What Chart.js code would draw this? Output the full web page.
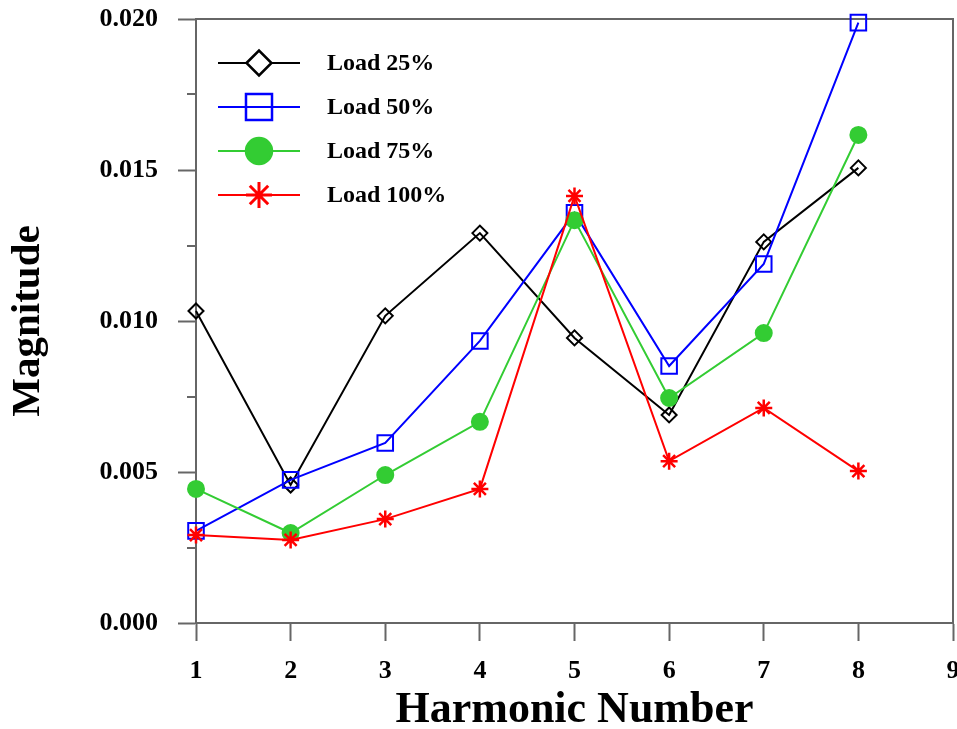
<!DOCTYPE html>
<html>
<head>
<meta charset="utf-8">
<title>Harmonic Magnitude</title>
<script src="https://cdn.jsdelivr.net/npm/chart.js@4.4.1/dist/chart.umd.min.js"></script>
<style>
  html, body { margin: 0; padding: 0; background: #fff; overflow: hidden; }
  /* canvas un po' più largo della finestra: il "9" finale resta tagliato sul bordo */
  #wrap { width: 957px; height: 729px; overflow: hidden; }
</style>
</head>
<body>
<div id="wrap"><canvas id="graficoArmoniche" width="966" height="729"></canvas></div>
<script>
// Dati
const harmonics = [1, 2, 3, 4, 5, 6, 7, 8];
const load25 = [0.01033, 0.00457, 0.01017, 0.01291, 0.00944, 0.00689, 0.01262, 0.01507];
const load50 = [0.00305, 0.00474, 0.00596, 0.00934, 0.01358, 0.00851, 0.01189, 0.01988];
const load75 = [0.00444, 0.00298, 0.00490, 0.00666, 0.01334, 0.00745, 0.00960, 0.01616];
const load100 = [0.00291, 0.00275, 0.00344, 0.00444, 0.01414, 0.00536, 0.00712, 0.00503];
const seriesLabels = ['Load 25%', 'Load 50%', 'Load 75%', 'Load 100%'];
const yTicks = [0, 0.005, 0.010, 0.015, 0.020];
const xTicks = [1, 2, 3, 4, 5, 6, 7, 8, 9];

const serif = "'Liberation Serif', 'DejaVu Serif', serif";
const axisColor = '#666';

function toPoints(values) {
    return harmonics.map((h, i) => ({ x: h, y: values[i] }));
}

// stile di ogni serie: colore, marker e dimensione nel grafico / in legenda
const styles = [
    { color: '#000000', pointStyle: 'rectRot', radius: 7.5, legendRadius: 12.5, width: 2, fill: 'rgba(0,0,0,0)', legendFill: '#fff', order: 3 },
    { color: '#0000ff', pointStyle: 'rect', radius: 11, legendRadius: 18.4, width: 2, fill: 'rgba(0,0,0,0)', legendFill: 'rgba(0,0,0,0)', order: 2 },
    { color: '#33cc33', pointStyle: 'circle', radius: 8, legendRadius: 13, width: 2, fill: '#33cc33', legendFill: '#33cc33', order: 1 },
    { color: '#ff0000', pointStyle: 'star', radius: 8.5, legendRadius: 13, width: 2.5, fill: '#ff0000', legendFill: '#ff0000', order: 0 }
];
const seriesData = [load25, load50, load75, load100];

// tacche secondarie sull'asse y (a metà tra le principali)
const minorTicks = {
    id: 'minorTicks',
    afterDraw(chart) {
        const ctx = chart.ctx;
        const y = chart.scales.y;
        ctx.save();
        ctx.strokeStyle = axisColor;
        ctx.lineWidth = 2;
        for (let i = 0; i < yTicks.length - 1; i++) {
            const py = Math.round(y.getPixelForValue((yTicks[i] + yTicks[i + 1]) / 2));
            ctx.beginPath();
            ctx.moveTo(y.right - 9, py);
            ctx.lineTo(y.right, py);
            ctx.stroke();
        }
        ctx.restore();
    }
};

// cornice: lato superiore e destro
const frame = {
    id: 'frame',
    beforeDatasetsDraw(chart) {
        const a = chart.chartArea;
        const ctx = chart.ctx;
        ctx.save();
        ctx.strokeStyle = axisColor;
        ctx.lineWidth = 2;
        ctx.beginPath();
        ctx.moveTo(a.left, a.top);
        ctx.lineTo(a.right, a.top);
        ctx.lineTo(a.right, a.bottom);
        ctx.stroke();
        ctx.restore();
    }
};

// legenda disegnata a mano: linea + marker + testo
const lineLegend = {
    id: 'lineLegend',
    afterDraw(chart) {
        const ctx = chart.ctx;
        const rows = [63, 107, 151, 195];
        ctx.save();
        chart.data.datasets.forEach((ds, i) => {
            const s = styles[i];
            const y = rows[i];
            ctx.strokeStyle = s.color;
            ctx.lineWidth = 2;
            ctx.beginPath();
            ctx.moveTo(218, y);
            ctx.lineTo(300, y);
            ctx.stroke();
            ctx.fillStyle = s.legendFill;
            ctx.strokeStyle = s.color;
            ctx.lineWidth = s.width + 0.5;
            Chart.helpers.drawPoint(ctx, {
                pointStyle: s.pointStyle,
                radius: s.legendRadius,
                borderWidth: s.width + 0.5,
                rotation: 0
            }, 259, y);
            ctx.fillStyle = '#000';
            ctx.font = 'bold 24px ' + serif;
            ctx.textAlign = 'left';
            ctx.textBaseline = 'middle';
            ctx.fillText(ds.label, 327, y + 1);
        });
        ctx.restore();
    }
};

const ctx1 = document.getElementById('graficoArmoniche').getContext('2d');

new Chart(ctx1, {
    type: 'line',
    data: {
        datasets: seriesData.map((values, i) => ({
            label: seriesLabels[i],
            data: toPoints(values),
            borderColor: styles[i].color,
            backgroundColor: styles[i].fill,
            borderWidth: 2,
            tension: 0,
            pointStyle: styles[i].pointStyle,
            pointRadius: styles[i].radius,
            pointBorderWidth: styles[i].width,
            pointBorderColor: styles[i].color,
            pointBackgroundColor: styles[i].fill,
            fill: false,
            clip: false,
            order: styles[i].order
        }))
    },
    options: {
        responsive: false,
        animation: false,
        devicePixelRatio: 1,
        layout: { padding: { top: 19, right: 4, left: 0, bottom: 0 } },
        plugins: {
            legend: { display: false },
            tooltip: { enabled: false }
        },
        scales: {
            x: {
                type: 'linear',
                min: 1,
                max: 9,
                afterBuildTicks: (scale) => { scale.ticks = xTicks.map(v => ({ value: v })); },
                afterFit: (scale) => { scale.height = 106; scale.paddingLeft = 0; scale.paddingRight = 0; },
                border: { display: true, color: axisColor, width: 2 },
                grid: { drawOnChartArea: false, drawTicks: true, tickLength: 18, tickColor: axisColor, tickWidth: 2 },
                ticks: {
                    padding: 15,
                    color: '#000',
                    maxRotation: 0,
                    font: { family: serif, size: 26, weight: 'bold' }
                },
                title: {
                    display: true,
                    text: 'Harmonic Number',
                    color: '#000',
                    padding: { top: 0, bottom: 0 },
                    font: { family: serif, size: 44, weight: 'bold', lineHeight: 0.85 }
                }
            },
            y: {
                min: 0,
                max: 0.02,
                afterBuildTicks: (scale) => { scale.ticks = yTicks.map(v => ({ value: v })); },
                afterFit: (scale) => { scale.width = 196; scale.paddingTop = 0; scale.paddingBottom = 0; },
                border: { display: true, color: axisColor, width: 2 },
                grid: { drawOnChartArea: false, drawTicks: true, tickLength: 18, tickColor: axisColor, tickWidth: 2 },
                ticks: {
                    padding: 20,
                    color: '#000',
                    callback: (v) => v.toFixed(3),
                    font: { family: serif, size: 26, weight: 'bold' }
                },
                title: {
                    display: true,
                    text: 'Magnitude',
                    color: '#000',
                    padding: { top: 6, bottom: 0 },
                    font: { family: serif, size: 41, weight: 'bold', lineHeight: 1.1 }
                }
            }
        }
    },
    plugins: [frame, minorTicks, lineLegend]
});
</script>
</body>
</html>
